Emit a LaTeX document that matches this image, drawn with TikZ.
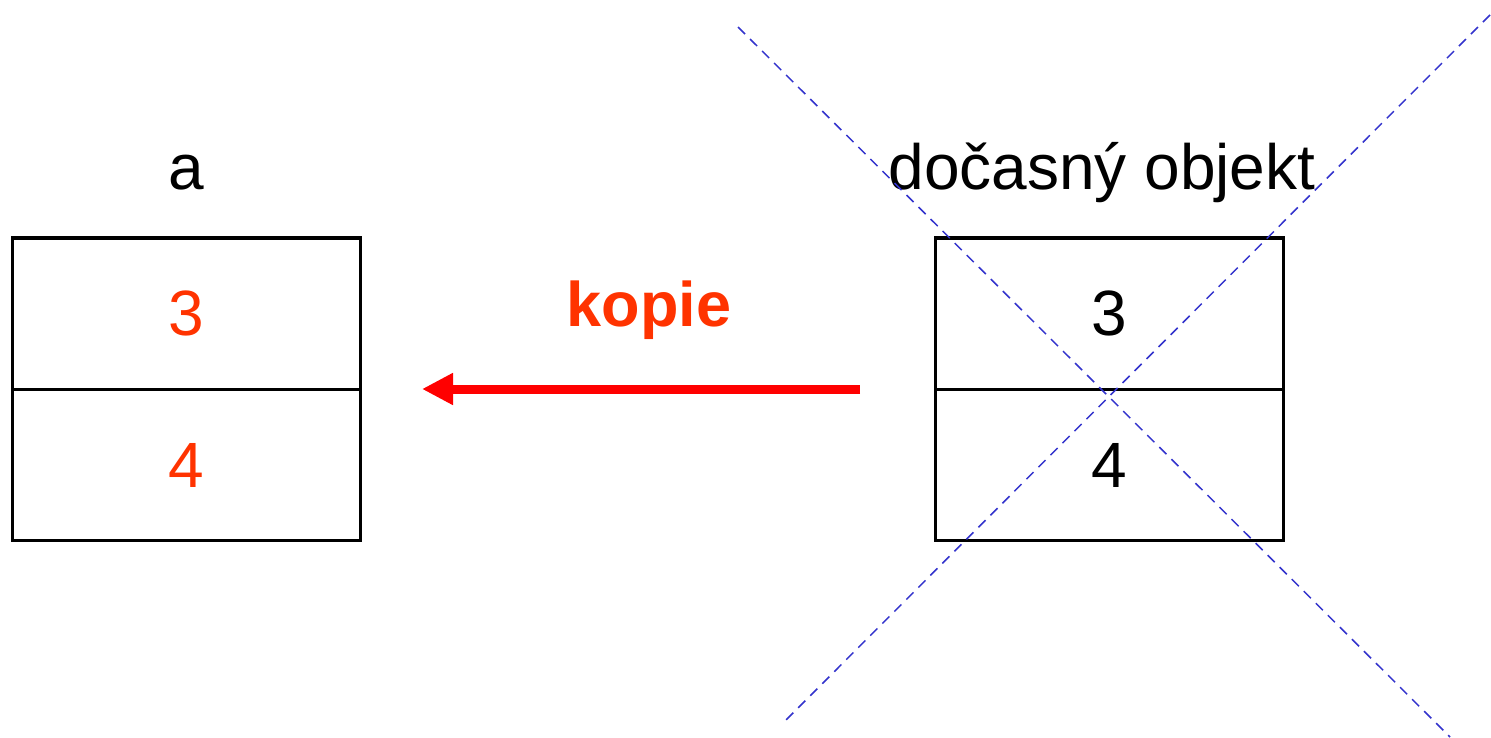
\documentclass[tikz,border=0pt]{standalone}
\usepackage{fontspec}
\setmainfont{Liberation Sans}
\usetikzlibrary{arrows.meta}
\definecolor{oranger}{RGB}{255,51,0}
\definecolor{crossblue}{RGB}{51,51,204}
\definecolor{arrred}{RGB}{255,0,0}
\tikzset{
  cell/.style={draw=black, line width=3pt, minimum width=348pt, minimum height=151pt, inner sep=0pt, font=\fontsize{64}{70}\selectfont},
  lbl/.style={anchor=base, inner sep=0pt, font=\fontsize{64}{70}\selectfont},
  copyarrow/.style={draw=arrred, line width=9pt, -{Triangle[length=31pt,width=30pt]}},
  crossline/.style={draw=crossblue, line width=1.5pt, dash pattern=on 10pt off 7pt}
}
\begin{document}
\begin{tikzpicture}[x=1pt,y=-1pt]
\useasboundingbox (0,0) rectangle (1491,738);
% left object
\node[lbl] (la) at (186,190) {a};
\node[cell, text=oranger] (l3) at (186,313.5) {3};
\node[cell, text=oranger] (l4) at (186,465) {4};
% right object
\node[lbl] (rt) at (1102,190) {dočasný objekt};
\node[cell] (r3) at (1109,313.5) {3};
\node[cell] (r4) at (1109,465) {4};
% arrow
\coordinate (as) at (860,389);
\coordinate (ae) at (422,389);
\draw[copyarrow] (as) -- (ae);
\node[lbl, text=oranger, font=\fontsize{63}{70}\selectfont\bfseries] (kop) at (649,326) {kopie};
% cross
\coordinate (c1) at (738,27);
\coordinate (c2) at (1450,737);
\coordinate (c3) at (1490,15);
\coordinate (c4) at (784,722);
\draw[crossline] (c1) -- (c2);
\draw[crossline] (c3) -- (c4);
\end{tikzpicture}
\end{document}
